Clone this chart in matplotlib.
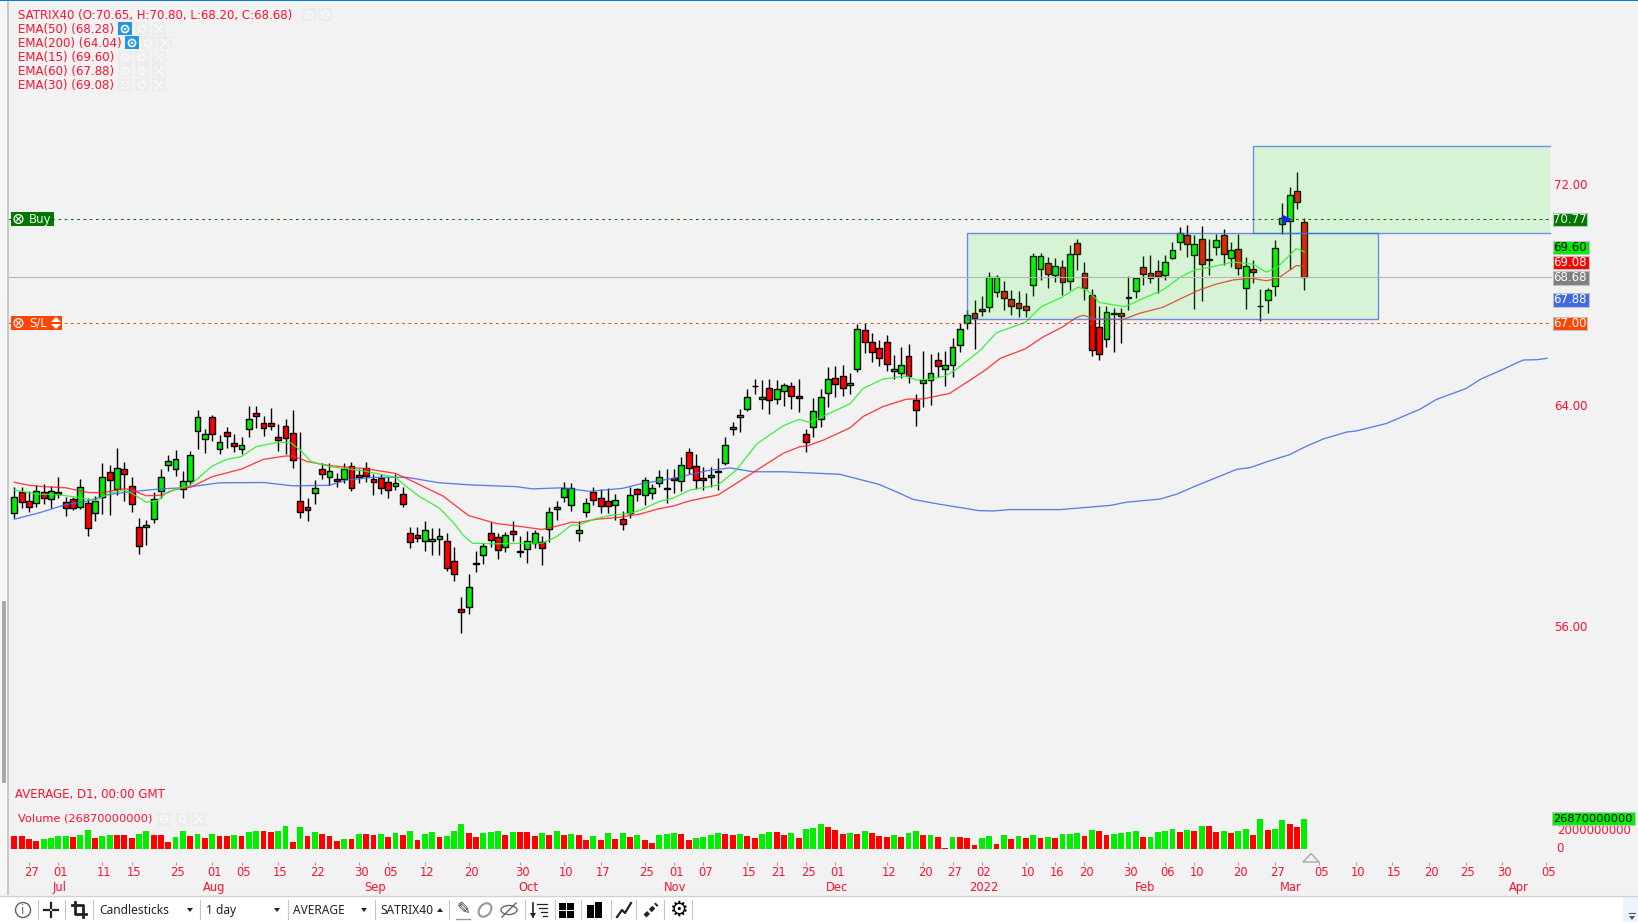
import matplotlib
matplotlib.use("Agg")
import matplotlib.pyplot as plt
from matplotlib.patches import Rectangle, Circle, Ellipse, Polygon

# candles
opens = [60.10,60.89,60.54,60.47,60.89,60.61,60.89,60.53,60.61,60.32,60.47,60.10,60.68,61.61,60.97,61.70,61.11,59.60,59.60,59.89,
         60.90,61.84,61.70,60.97,61.26,63.08,62.78,63.58,62.42,63.06,62.64,62.42,63.16,63.73,63.36,63.36,62.86,63.28,63.00,60.54,
         60.32,60.83,61.70,61.41,61.34,61.34,61.83,61.48,61.76,61.34,61.40,61.25,61.11,60.82,59.38,59.31,59.09,59.09,59.16,59.09,
         58.36,56.62,56.70,58.30,58.58,59.38,59.23,58.87,59.45,58.74,58.80,59.02,59.06,59.52,60.25,60.68,60.39,59.38,60.17,60.89,
         60.67,60.54,60.39,59.89,60.10,60.97,60.76,60.83,61.19,61.03,61.40,61.26,62.34,61.83,61.40,61.41,61.62,61.92,63.15,63.58,
         63.87,64.73,64.23,64.66,64.23,64.52,64.73,64.37,62.99,63.22,63.51,64.45,65.02,65.09,64.74,65.32,66.76,66.32,66.11,66.32,
         65.25,65.18,65.82,64.22,64.81,64.95,65.67,65.32,65.47,66.19,67.00,67.35,67.50,67.57,68.14,68.15,67.86,67.71,67.63,68.37,
         68.94,69.16,68.73,69.02,68.51,69.89,68.80,68.00,66.84,66.41,67.35,67.35,67.93,68.15,69.02,68.80,68.87,68.73,69.37,69.95,
         70.18,69.45,70.03,69.31,69.74,70.18,69.37,69.67,68.28,68.94,67.63,67.84,68.35,70.60,70.68,71.77,70.65]
highs = [61.05,61.05,60.92,61.13,61.17,61.09,61.41,60.68,60.68,61.34,60.65,60.73,61.94,61.85,62.46,61.95,61.41,59.92,59.86,60.89,
         61.70,62.20,62.40,61.64,62.37,63.85,63.15,63.67,62.93,63.24,62.97,62.86,63.99,63.99,63.64,63.91,63.34,63.51,63.85,63.04,
         60.65,61.31,61.91,61.91,61.58,61.91,61.95,61.70,61.95,61.52,61.53,61.41,61.53,61.07,59.62,59.62,59.84,59.56,59.56,59.38,
         58.87,57.06,57.89,58.74,59.02,59.80,59.38,59.44,59.84,59.28,59.45,59.50,59.29,60.32,60.56,61.23,61.19,59.84,60.65,61.05,
         60.97,61.01,60.79,60.20,61.07,61.01,61.43,61.17,61.67,61.70,61.70,62.13,62.46,62.24,61.79,61.79,62.10,62.86,63.41,63.87,
         64.60,64.96,64.93,64.96,64.93,64.84,64.86,64.96,63.15,64.27,64.60,65.39,65.44,65.47,65.18,66.96,66.99,66.63,66.38,66.55,
         65.83,66.12,66.23,64.41,65.97,65.86,65.95,65.98,66.44,66.99,67.47,67.83,67.98,68.85,68.74,68.52,68.19,68.16,68.07,69.52,
         69.55,69.40,69.34,69.28,69.83,70.03,69.20,68.22,67.62,67.62,67.53,67.56,68.70,68.68,69.43,69.46,69.28,69.46,69.95,70.47,
         70.55,70.19,70.51,70.03,70.22,70.39,69.95,70.22,69.40,69.28,68.22,68.26,70.01,71.34,71.92,72.46,70.80]
lows = [59.92,60.28,60.16,60.34,60.44,60.28,60.65,60.01,60.22,60.25,59.28,59.84,60.08,60.04,60.77,60.56,60.16,58.63,58.97,59.77,
        60.65,61.65,61.45,60.67,61.13,62.45,62.30,62.74,62.25,62.48,62.34,62.25,62.88,63.20,62.91,63.12,62.37,62.25,61.76,59.95,
        59.84,60.44,61.34,61.13,61.05,61.21,60.92,61.21,61.25,60.77,60.80,60.67,60.95,60.32,58.86,59.06,58.75,58.59,58.59,58.03,
        57.66,55.78,56.47,57.99,58.28,58.90,58.46,58.70,59.10,58.53,58.32,58.85,58.24,59.08,59.86,60.53,60.20,59.11,59.98,60.41,
        60.13,60.10,59.86,59.50,59.93,60.56,60.41,60.62,61.05,60.47,60.85,60.92,61.53,60.97,60.95,61.05,60.95,61.86,62.94,63.06,
        63.82,64.43,63.90,63.71,64.06,63.99,63.90,63.79,62.33,62.86,63.24,63.97,64.33,64.35,64.42,65.24,65.90,65.60,65.45,65.27,
        64.98,65.00,64.84,63.28,63.97,64.04,65.03,64.73,65.06,65.96,66.77,66.07,67.25,67.41,67.93,67.47,67.29,67.23,67.21,67.98,
        68.56,68.26,68.50,68.01,68.20,68.92,67.83,65.82,65.66,66.14,65.95,66.29,67.47,67.89,68.36,68.46,68.07,68.56,69.31,69.65,
        69.40,67.50,67.81,68.74,69.46,69.10,69.04,68.74,67.51,68.46,67.08,67.37,67.98,70.22,68.94,71.14,68.20]
closes = [60.71,60.50,60.34,60.92,60.65,60.92,60.79,60.28,60.28,61.07,59.56,60.56,61.43,61.31,61.73,61.52,60.43,58.91,59.69,60.63,
          61.43,62.01,62.08,61.29,62.23,63.61,62.97,62.97,62.68,62.91,62.53,62.59,63.53,63.62,63.18,63.26,62.75,62.82,62.02,60.14,
          60.21,61.01,61.53,61.65,61.29,61.72,61.01,61.43,61.44,61.23,61.01,60.94,61.21,60.43,59.05,59.20,59.49,59.18,59.27,58.11,
          57.89,56.52,57.45,58.28,58.91,59.13,58.76,59.33,59.34,58.71,59.11,59.40,58.83,60.14,60.32,61.01,61.01,59.49,60.49,60.57,
          60.36,60.36,60.57,59.70,60.78,60.79,61.30,61.01,61.43,60.97,61.30,61.87,61.75,61.30,61.30,61.50,61.59,62.59,63.24,63.65,
          64.33,64.70,64.33,64.20,64.62,64.77,64.34,64.27,62.68,63.82,64.33,64.98,64.78,64.63,64.81,66.79,66.30,65.94,65.72,65.50,
          65.35,65.49,65.07,63.83,64.93,65.20,65.43,65.49,66.14,66.79,67.30,67.17,67.45,68.65,68.65,67.89,67.60,67.53,67.46,69.42,
          69.42,68.76,69.05,68.47,69.49,69.49,68.27,66.01,65.86,67.39,67.32,67.24,67.89,68.62,68.76,68.63,68.69,69.20,69.63,70.27,
          69.85,69.85,69.13,69.29,69.99,69.49,69.63,68.98,69.05,68.83,67.60,68.18,69.70,70.79,71.65,71.37,68.68]

# volume in billions, R or G per bar
volumes = [12.1,12.1,8.8,7.2,9.1,10.0,11.5,11.5,11.2,12.7,17.2,10.3,11.8,12.7,12.4,12.4,10.0,13.3,16.0,12.4,
           12.4,6.0,11.2,16.3,12.1,13.9,10.0,13.3,11.8,11.5,12.7,12.1,15.7,16.6,16.0,15.7,16.0,20.8,6.6,20.2,
           12.1,15.7,13.6,11.8,7.6,9.4,8.8,13.6,13.6,13.0,13.6,10.6,14.5,12.7,16.0,7.9,13.9,15.7,10.9,11.8,
           16.3,22.3,14.8,10.6,14.8,15.4,16.6,12.7,15.7,15.4,15.4,12.1,14.8,13.0,16.6,12.7,13.6,12.4,8.2,11.8,
           8.2,14.2,9.1,14.5,10.9,12.4,8.2,5.7,12.7,13.6,14.5,13.3,8.2,9.7,10.9,12.7,14.2,13.9,12.7,13.3,
           11.8,10.0,13.6,15.1,15.1,12.7,14.5,10.0,18.1,19.0,23.0,20.2,16.9,13.3,14.8,13.6,16.3,14.2,11.5,11.2,
           12.4,10.6,14.8,16.3,12.7,12.7,10.9,0.9,10.9,10.9,10.0,3.6,10.3,12.1,4.8,12.7,9.1,11.5,10.3,12.7,
           9.7,10.9,9.7,13.6,13.9,14.2,11.8,17.2,16.3,12.7,13.9,14.5,15.1,16.0,10.9,10.9,15.7,16.3,17.8,15.7,
           17.5,16.3,20.8,20.8,15.4,16.0,14.8,16.6,18.4,13.0,27.5,16.9,18.1,26.6,22.3,19.9,26.87]
volume_colours = ("RRRRGGGGRGGRGGRRRGGR" "RRGGRGRGRRGRGGRRGGRG" "RGRRRGRGRRGRGRGRGGRG" "GGRRGGGRGRRRGRGRGRRG"
                  "RGRGRGRR"
                  "GGGRRGGGGR" "RGRRGGRRGR" "GGGRRRGRGR" "RRGRGGRGRR" "GRRRGGRGRG" "RGRGRGGGRG" "RRGGGGRGGG" "GRGRGRRGRG" "GRGRGGRRG")

# moving averages: bar position, value
ema15_x = [0,3,6,9,11,13,15,16,18,19.5,21,24,27,29,31,33,36,37.7,39,40.5,43,47.5,52,53.5,55.3,58,60,61.2,62.5,65.7,69.4,72,74,76,77,79.4,81.6,84,85.4,88.1,89.9,92.2,96,98.5,101.3,104.9,107.1,108.5,110.4,114,115.8,118.5,121.7,123.1,124.9,127,128.5,131.7,134,137.9,140.1,142.9,145.1,146.3,148.1,151.5,154,156.7,159.2,161,163.5,166.3,169,170.8,172.4,174.9,176]
ema15_y = [60.95,60.80,60.78,60.67,60.56,60.83,60.95,60.83,60.51,60.56,60.89,61.13,61.82,62.06,62.16,62.52,62.68,62.66,62.40,61.98,61.80,61.65,61.41,61.07,60.71,60.29,59.74,59.32,59.02,59.00,59.02,59.02,59.26,59.68,59.68,59.92,60.04,60.10,60.22,60.54,60.66,60.95,61.13,61.67,62.62,63.28,63.51,63.40,63.63,64.07,64.63,64.97,65.08,64.93,64.96,65.08,65.32,65.99,66.65,67.02,67.59,67.93,68.30,68.20,67.74,67.59,67.89,68.20,68.68,68.92,69.04,69.21,69.13,68.84,69.04,69.70,69.58]
ema30_x = [0,2,4,7,10,12,15,16,18,20,22,24,27,31,34,37,38,40,43,48,52,54,56.6,58.5,60.7,62,65.7,69.8,72,74,76,77,79.4,82.5,85.4,87.6,89.9,92.2,96,98.5,101.3,104.9,107.2,108.1,110.4,114,115.8,118.5,121.7,124,127.6,130.4,132.6,134.5,137.9,140.4,143.1,144.9,145.8,147.6,151.3,153.5,156.7,159.5,161.7,164,166.3,168.8,170.8,172.4,174.9,176]
ema30_y = [61.23,61.12,61.07,61.03,60.86,60.85,61.00,60.95,60.74,60.76,60.97,61.05,61.43,61.71,62.06,62.18,62.18,61.98,61.83,61.72,61.55,61.31,60.97,60.73,60.28,60.02,59.74,59.60,59.52,59.64,59.78,59.77,59.89,59.96,60.08,60.25,60.37,60.56,60.77,61.19,61.67,62.28,62.52,62.54,62.76,63.20,63.61,63.97,64.24,64.25,64.45,64.93,65.32,65.72,66.06,66.50,66.87,67.20,67.28,67.14,67.13,67.35,67.57,67.93,68.20,68.41,68.56,68.62,68.53,68.62,69.08,69.07]
ema60_x = [0,3.5,7,10,13,16,20,23,28,34,38,43,45.3,49,53.5,58,62.5,68.5,70.7,74.8,78.5,83,85.4,89.9,94.5,97.6,100.8,104.9,112.6,118,120.8,122.6,126.3,131.7,133.6,135.8,142.7,149.5,151.8,156.3,158.6,161.3,166.8,168.6,171.3,174,176.3,178.6,181.8,183.1,187.2,191.8,194,198.1,200,203.1,205,205.9,207.7,209.1]
ema60_y = [59.89,60.13,60.42,60.55,60.79,60.89,60.99,61.03,61.21,61.22,61.10,61.12,61.31,61.41,61.41,61.21,61.13,61.07,60.99,61.03,60.90,61.01,61.17,61.37,61.65,61.75,61.61,61.61,61.52,61.15,60.83,60.61,60.43,60.20,60.19,60.24,60.24,60.39,60.51,60.62,60.80,61.11,61.70,61.76,62.01,62.23,62.54,62.80,63.05,63.09,63.36,63.88,64.23,64.63,64.96,65.32,65.56,65.66,65.67,65.72]

# bottom axis
tick_pos = [2,6,12,16,22,27,31,36,41,47,51,56,62,69,75,80,86,90,94,100,104,108,112,119,124,128,132,138,142,146,152,157,161,167,172,178,183,188,193,198,203,209]
tick_labels = ["27","01","11","15","25","01","05","15","22","30","05","12","20","30","10","17","25","01","07","15","21","25","01","12","20","27","02","10","16","20","30","06","10","20","27","05","10","15","20","25","30","05"]
month_pos = [6,27,49,70,90,112,132,154,174,205]
month_labels = ["Jul","Aug","Sep","Oct","Nov","Dec","2022","Feb","Mar","Apr"]

price_ticks = [72, 64, 56]
buy_level = 70.77
stop_level = 67.00
last_close = 68.68
ema15_last, ema30_last, ema60_last = 69.60, 69.08, 67.88

BG = "#f2f2f2"
RED_TXT = "#ff1030"
BAR_GREEN = "#00ee00"
BAR_RED = "#ff0000"
W, H = 1638, 922
# pixel scale of the chart
X0, DX = 14.3, 7.33
PY = 27.6

plt.rcParams['font.family'] = ['DejaVu Sans']
fig = plt.figure(figsize=(W/100, H/100), dpi=100, facecolor=BG)


def box(px_left, px_top, px_right, px_bottom):
    return [px_left/W, 1-px_bottom/H, (px_right-px_left)/W, (px_bottom-px_top)/H]


xlim = ((8-X0)/DX, (1552-X0)/DX)

# price panel
ax = fig.add_axes(box(8, 3, 1552, 790))
ax.set_xlim(xlim)
ax.set_ylim(72-(790-185)/PY, 72+(185-3)/PY)
ax.axis("off")

x = list(range(len(opens)))
for i in x:
    ax.vlines(i, lows[i], highs[i], color="black", lw=1.0, zorder=2)
    up = closes[i] >= opens[i]
    ax.bar(i, abs(closes[i]-opens[i]), bottom=min(opens[i], closes[i]), width=0.8,
           color=BAR_GREEN if up else BAR_RED, edgecolor="black", lw=1.0, zorder=3)

ax.plot(ema60_x, ema60_y, color="#4169e1", lw=0.95, alpha=0.85, zorder=4)
ax.plot(ema30_x, ema30_y, color="#ff2020", lw=0.95, alpha=0.85, zorder=4)
ax.plot(ema15_x, ema15_y, color="#30f030", lw=0.95, alpha=0.9, zorder=4)

# the two shaded boxes, the upper one runs off the chart on the right
ax.add_patch(Rectangle((130, 67.14), 56, 70.27-67.14, facecolor=(55/255, 1, 55/255, 0.15), edgecolor="none", zorder=5))
ax.add_patch(Rectangle((130, 67.14), 56, 70.27-67.14, fill=False, edgecolor="#4169e1", lw=1.0, alpha=0.75, zorder=5))
ax.add_patch(Rectangle((169, 70.27), 40.5, 73.42-70.27, facecolor=(55/255, 1, 55/255, 0.15), edgecolor="none", zorder=5))
ax.plot([209.5, 169, 169, 209.5], [73.42, 73.42, 70.27, 70.27], color="#4169e1", lw=1.0, alpha=0.7, zorder=5)

ax.axhline(buy_level, color="#007700", lw=0.75, ls=(0, (2.5, 3.5)), zorder=6)
ax.axhline(stop_level, color="#ff4500", lw=0.75, ls=(0, (2.5, 3.5)), zorder=6)
ax.axhline(last_close, color="#b4b4b4", lw=0.75, zorder=6)
ax.plot([173.5], [buy_level], marker=">", color="#2020e0", ms=6, zorder=7)

# volume panel
ax_v = fig.add_axes(box(8, 810, 1552, 849))
ax_v.set_xlim(xlim)
ax_v.set_ylim(0, 39*26.87/29.7)
ax_v.axis("off")
ax_v.patch.set_alpha(0)
vol_x = list(range(len(volumes)))
vol_c = [BAR_GREEN if c == "G" else BAR_RED for c in volume_colours]
ax_v.bar(vol_x, volumes, width=0.8, color=vol_c)

# date axis
ax_t = fig.add_axes(box(8, 858, 1552, 895))
ax_t.set_xlim(xlim)
ax_t.set_ylim(895, 858)
ax_t.axis("off")
ax_t.patch.set_alpha(0)
ax_t.vlines(tick_pos, 862, 865, color="#a0a0a0", lw=0.8)
for p, t in zip(tick_pos, tick_labels):
    ax_t.text(p+0.3, 872, t, color=RED_TXT, fontsize=8.3, ha="center", va="center")
for p, t in zip(month_pos, month_labels):
    ax_t.text(p+0.2, 887, t, color=RED_TXT, fontsize=8.3, ha="center", va="center")

# pixel layer for the window chrome and labels
ui = fig.add_axes([0, 0, 1, 1], zorder=10)
ui.set_xlim(0, W)
ui.set_ylim(H, 0)
ui.axis("off")
ui.patch.set_alpha(0)


def rect(l, t, r, b, **kw):
    ui.add_patch(Rectangle((l, t), r-l, b-t, **kw))


def y_of(price):
    return 185+(72-price)*PY


def eye_button(l, yy, blue=False):
    rect(l, yy-6.5, l+14, yy+6.5, color="#2196e8" if blue else "#ececec", lw=0)
    eye = "white" if blue else "#f8f8f8"
    ui.add_patch(Circle((l+7, yy), 3.5, fill=False, edgecolor=eye, lw=1.2))
    ui.add_patch(Circle((l+7, yy), 1.2, color=eye, lw=0))


def gear_button(l, yy):
    rect(l, yy-6.5, l+14, yy+6.5, color="#ececec", lw=0)
    ui.add_patch(Circle((l+7, yy), 3.2, fill=False, edgecolor="#f8f8f8", lw=2, ls=(0, (1, 0.4))))


def cross_button(l, yy):
    rect(l, yy-6.5, l+14, yy+6.5, color="#ececec", lw=0)
    ui.plot([l+3, l+11], [yy-4, yy+4], color="#f8f8f8", lw=1.2)
    ui.plot([l+3, l+11], [yy+4, yy-4], color="#f8f8f8", lw=1.2)


# left edge and top line
rect(0, 0, 7, 895, color="#f6f6f6", lw=0)
rect(7, 0, 8.5, 895, color="#c8c8c8", lw=0)
rect(2, 601, 6, 783, color="#a8a8a8", lw=0)
rect(0, 0, W, 1.5, color="#0078d7", lw=0)

# legend
legend_rows = ["SATRIX40 (O:70.65, H:70.80, L:68.20, C:68.68)", "EMA(50) (68.28)", "EMA(200) (64.04)",
               "EMA(15) (69.60)", "EMA(60) (67.88)", "EMA(30) (69.08)"]
legend_y = [15, 29, 43, 57.5, 71, 85]
for t, yy in zip(legend_rows, legend_y):
    ui.text(18, yy, t, color=RED_TXT, fontsize=8.5, va="center")
eye_button(302, 15)
gear_button(318, 15)
for yy, lefts in zip(legend_y[1:], [(118, 135, 152), (125, 141, 158), (118, 135, 152), (118, 135, 152), (118, 135, 152)]):
    eye_button(lefts[0], yy, blue=yy < 50)
    gear_button(lefts[1], yy)
    cross_button(lefts[2], yy)

ui.text(15, 794, "AVERAGE, D1, 00:00 GMT", color=RED_TXT, fontsize=8.45, va="center")
ui.text(18, 818, "Volume (26870000000)", color=RED_TXT, fontsize=8.2, va="center")
eye_button(157, 819)
gear_button(176, 819)
cross_button(192, 819)

# right hand labels
for p in price_ticks:
    ui.text(1571, y_of(p)+0.5, "%.2f" % p, color=RED_TXT, fontsize=8.5, ha="center", va="center")
tags = [(buy_level, 219.5, 1553, 1587, 13, "#007700", "#e8f8e8"), (ema15_last, 247.5, 1552.5, 1589, 13, "#00ee00", "black"),
        (ema30_last, 262.5, 1552.5, 1589, 13, "#ff0000", "white"), (last_close, 277.5, 1552.5, 1589, 14, "#808080", "white"),
        (ema60_last, 299.5, 1552.5, 1589, 14, "#4169e1", "white"), (stop_level, 323.5, 1553, 1587, 13, "#ff4500", "white")]
for p, yy, l, r, h, c, tc in tags:
    rect(l, yy-h/2, r, yy+h/2, facecolor=c, edgecolor="#c0c0c0", lw=0.8, zorder=3)
    ui.text(1569.5, yy, "%.2f" % p, color=tc, fontsize=8.5, ha="center", va="center", zorder=4)

# the lower scale label sits half under the volume tag, as in the app
ui.text(1557, 830, "2000000000", color=RED_TXT, fontsize=8.5, va="center")
rect(1552, 812, 1635, 825, facecolor="#00ee00", edgecolor="#c0c0c0", lw=0.8, zorder=3)
ui.text(1553.5, 818.5, "26870000000", color="black", fontsize=8.2, va="center", zorder=4)
ui.text(1556, 848, "0", color=RED_TXT, fontsize=8.5, va="center")

# order tags on the left
rect(11, 212, 54, 226, color="#007700", lw=0)
ui.add_patch(Circle((18.5, 219), 4.4, fill=False, edgecolor="white", lw=0.9))
ui.plot([16.5, 20.5], [217, 221], color="white", lw=0.8)
ui.plot([16.5, 20.5], [221, 217], color="white", lw=0.8)
ui.text(29, 219, "Buy", color="#e8f8e8", fontsize=8.5, va="center")
rect(11, 316, 62, 330, color="#ff4500", lw=0)
ui.add_patch(Circle((18.5, 323), 4.4, fill=False, edgecolor="white", lw=0.9))
ui.plot([16.5, 20.5], [321, 325], color="white", lw=0.8)
ui.plot([16.5, 20.5], [325, 321], color="white", lw=0.8)
ui.text(29, 323, "S/L", color="white", fontsize=8.5, va="center")
ui.add_patch(Polygon([(51, 322), (56, 317), (61, 322)], color="white", lw=0))
ui.add_patch(Polygon([(51, 324), (56, 329), (61, 324)], color="white", lw=0))

# scroll marker above the date axis
ui.add_patch(Polygon([(1303, 862), (1311, 853.5), (1319, 862)], fill=False, edgecolor="#a8a8a8", lw=1))

# bottom toolbar
rect(0, 896, W, H, color="white", lw=0)
ui.plot([0, W], [896, 896], color="#d0d0d0", lw=1)
rect(1623, 897, W, H, color="#eef3fb", lw=0)
ui.add_patch(Polygon([(1629, 916), (1635, 916), (1632, 920)], color="#555555", lw=0))
ui.plot([1629, 1635], [913, 913], color="#555555", lw=0.8)
for s in (38, 65, 93, 200, 288, 375, 449, 525, 555, 581, 611, 636, 664, 692):
    ui.plot([s, s], [900, 919], color="#c8c8c8", lw=0.8)
ui.add_patch(Circle((23, 910), 7.5, fill=False, edgecolor="#606060", lw=1))
ui.text(23, 910, "i", color="#606060", fontsize=8.5, ha="center", va="center")
ui.plot([51, 51], [903, 908], color="#222222", lw=1.6)
ui.plot([51, 51], [912, 917], color="#222222", lw=1.6)
ui.plot([44, 49], [910, 910], color="#222222", lw=1.6)
ui.plot([53, 58], [910, 910], color="#222222", lw=1.6)
ui.plot([75, 75, 86], [902, 914, 914], color="#222222", lw=2)
ui.plot([72, 83, 83], [905, 905, 917], color="#222222", lw=2)
for l, t in ((99, "Candlesticks"), (206, "1 day"), (293, "AVERAGE"), (380, "SATRIX40")):
    ui.text(l, 910, t, color="#222222", fontsize=8.6, family="Noto Sans", va="center")
for cx in (190, 277, 364):
    ui.add_patch(Polygon([(cx-3, 908), (cx+3, 908), (cx, 912)], color="#222222", lw=0))
ui.add_patch(Polygon([(437, 912), (443, 912), (440, 908)], color="#222222", lw=0))
ui.text(463, 909, "\u270e", color="#333333", fontsize=12, ha="center", va="center")
ui.plot([456, 470], [919, 919], color="#999999", lw=1)
ui.add_patch(Ellipse((485, 910), 11, 15, angle=40, fill=False, edgecolor="#999999", lw=1.5))
ui.add_patch(Ellipse((509, 910), 16, 9, fill=False, edgecolor="#666666", lw=1))
ui.plot([502, 516], [917, 903], color="#666666", lw=1)
ui.plot([533, 533], [903, 917], color="#222222", lw=1.2)
ui.add_patch(Polygon([(530, 913), (536, 913), (533, 918)], color="#222222", lw=0))
for n, l in enumerate((537, 539, 541, 543)):
    ui.plot([l, 547], [904+n*4, 904+n*4], color="#222222", lw=0.9)
for l, t in ((559, 903), (567, 903), (559, 911), (567, 911)):
    rect(l, t, l+7, t+7, color="black", lw=0)
rect(587, 905, 594, 918, color="black", lw=0)
rect(595, 902, 602, 918, color="black", lw=0)
ui.plot([617, 622, 625, 631], [917, 910, 913, 903], color="#222222", lw=1.6)
ui.plot([645, 657], [916, 904], color="#222222", lw=3, ls=(0, (1.2, 0.6)))
ui.text(678, 910, "\u2699", color="black", fontsize=15, ha="center", va="center")

fig.savefig("out.png", dpi=100, facecolor=BG)
